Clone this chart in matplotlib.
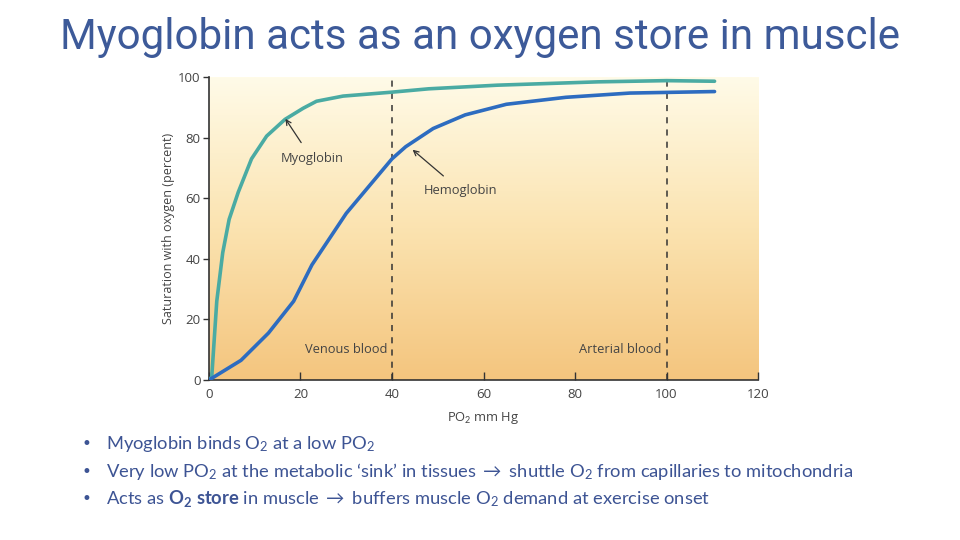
import numpy as np
import matplotlib
matplotlib.use("Agg")
import matplotlib.pyplot as plt
from matplotlib.colors import LinearSegmentedColormap

plt.rcParams['mathtext.fontset'] = 'custom'
plt.rcParams['mathtext.rm'] = 'Lato'
plt.rcParams['mathtext.it'] = 'Lato:italic'
plt.rcParams['mathtext.bf'] = 'Lato:bold'

# myoglobin saturation curve (PO2 mm Hg, percent)
myo_po2 = [0, 0.6, 1.7, 3.0, 4.4, 6.4, 9.3, 12.6, 16.6, 20.6, 23.5, 29.3, 40, 48, 63, 85, 100, 110.5]
myo_sat = [0, 1, 26, 42, 53, 62, 73, 80.5, 86, 89.7, 92, 93.7, 95, 96.1, 97.3, 98.4, 98.8, 98.6]

# hemoglobin saturation curve
hb_po2 = [0, 7, 13, 18.5, 22.5, 30, 40, 43, 49, 56, 65, 78, 92, 110.5]
hb_sat = [0, 6.5, 15.5, 26, 38, 55, 73, 77, 83, 87.5, 91, 93.3, 94.7, 95.2]

xticks = [0, 20, 40, 60, 80, 100, 120]
yticks = [0, 20, 40, 60, 80, 100]
venous = 40
arterial = 100

bullets = [
    r"Myoglobin binds O$_2$ at a low PO$_2$",
    r"Very low PO$_2$ at the metabolic ‘sink’ in tissues $\rightarrow$ shuttle O$_2$ from capillaries to mitochondria",
    r"Acts as $\mathbf{O_2\ store}$ in muscle $\rightarrow$ buffers muscle O$_2$ demand at exercise onset",
]

fig = plt.figure(figsize=(9.6, 5.4), dpi=100)
fig.patch.set_facecolor("white")

fig.text(0.5, 0.930, "Myoglobin acts as an oxygen store in muscle", ha="center", va="center",
         fontsize=30.3, color="#3d5a99", family="Roboto")

ax = fig.add_axes([0.2177, 0.2963, 0.5719, 0.5611])

# background gradient
grad = np.linspace(0, 1, 256).reshape(-1, 1)
cmap = LinearSegmentedColormap.from_list("bg", ["#fffbe8", "#fbe3b0", "#f4c57e"])
ax.imshow(grad, extent=[0, 120, 0, 100], aspect="auto", cmap=cmap, origin="upper", zorder=0)

ax.plot(myo_po2, myo_sat, color="#4aaba3", lw=2.6, zorder=3, solid_capstyle="round")
ax.plot(hb_po2, hb_sat, color="#2d6cc0", lw=2.6, zorder=3, solid_capstyle="round")

for xv in [venous, arterial]:
    ax.plot([xv, xv], [0, 100], color="#333333", lw=1.1, ls=(0, (4, 4)), zorder=2)

tc = "#444444"
ax.text(venous - 1, 10, "Venous blood", ha="right", va="center", fontsize=9.3, color=tc, family="Open Sans")
ax.text(arterial - 1, 10, "Arterial blood", ha="right", va="center", fontsize=9.3, color=tc, family="Open Sans")

ax.annotate("Myoglobin", xy=(16.7, 86.2), xytext=(22.5, 73), ha="center", va="center",
            fontsize=9.3, color=tc, family="Open Sans",
            arrowprops=dict(arrowstyle="->", color="#333333", lw=0.9, mutation_scale=9, shrinkA=6, shrinkB=0))
ax.annotate("Hemoglobin", xy=(44.5, 76), xytext=(55, 62.5), ha="center", va="center",
            fontsize=9.3, color=tc, family="Open Sans",
            arrowprops=dict(arrowstyle="->", color="#333333", lw=0.9, mutation_scale=9, shrinkA=6, shrinkB=0))

ax.set_xlim(0, 120)
ax.set_ylim(0, 100)
ax.set_xticks(xticks)
ax.set_yticks(yticks)
ax.tick_params(axis="x", direction="in", length=6, width=1, colors="#333333", labelcolor=tc, labelsize=9.5, pad=6)
ax.tick_params(axis="y", direction="out", length=4, width=1, colors="#333333", labelcolor=tc, labelsize=9.5, pad=2)
for lab in ax.get_xticklabels() + ax.get_yticklabels():
    lab.set_family("Open Sans")
for s in ["top", "right"]:
    ax.spines[s].set_visible(False)
for s in ["left", "bottom"]:
    ax.spines[s].set_color("#333333")
    ax.spines[s].set_linewidth(1.2)

ax.set_xlabel(r"PO$_2$ mm Hg", fontsize=9.3, color=tc, family="Open Sans", labelpad=6)
ax.set_ylabel("Saturation with oxygen (percent)", fontsize=9, color=tc, family="Open Sans", labelpad=2)

ys = [0.178, 0.126, 0.076]
for y, b in zip(ys, bullets):
    fig.text(0.085, y, "•", ha="left", va="center", fontsize=12, color="#3d5494", family="DejaVu Sans")
    fig.text(0.11, y, b, ha="left", va="center", fontsize=13.2, color="#3d5494", family="Lato")

fig.savefig("out.png", dpi=100)
